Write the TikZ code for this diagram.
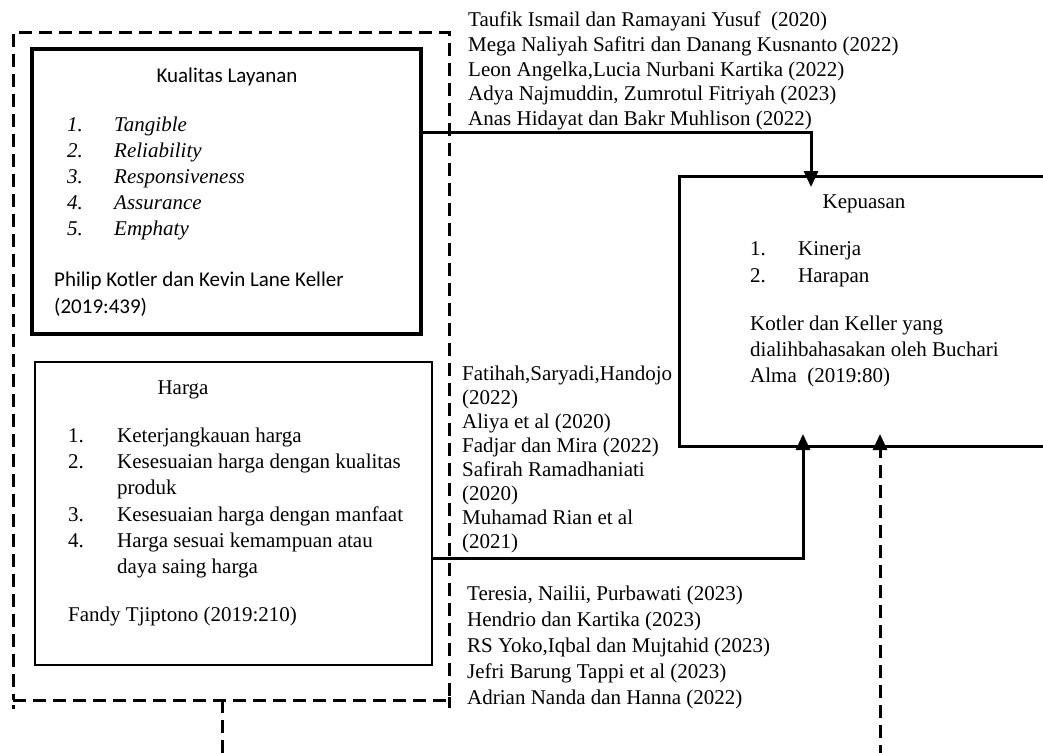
\documentclass[tikz,border=0pt]{standalone}
\usepackage{fontspec}
\setmainfont{Liberation Serif}
\newfontfamily\calib{Carlito}
\usetikzlibrary{arrows.meta,calc}
\begin{document}
\begin{tikzpicture}[x=1pt,y=-1pt,
  box/.style={draw, line width=3pt, anchor=north west, inner sep=0pt, outer sep=0pt},
  grpbox/.style={draw, line width=3pt, dash pattern=on 13pt off 7pt, anchor=north west, inner sep=0pt, outer sep=0pt},
  txt/.style={anchor=base west, inner sep=0pt, font=\fontsize{21}{25}\selectfont},
  ctxt/.style={anchor=base, inner sep=0pt, font=\fontsize{21}{25}\selectfont},
  sans/.style={font=\calib\fontsize{21}{25}\selectfont},
  ital/.style={font=\fontsize{21}{25}\selectfont\itshape},
  conn/.style={line width=3pt, -{Triangle[width=14pt,length=16pt]}},
  dconn/.style={conn, dash pattern=on 13pt off 7pt},
  dsh/.style={line width=3pt, dash pattern=on 13pt off 7pt}
]
\clip (0,0) rectangle (1043,752);
\fill[white] (0,0) rectangle (1043,752);

% boxes
\node[grpbox, minimum width=436pt, minimum height=667pt] (grp) at (13,33) {};
\node[box, line width=3.3pt, minimum width=389pt, minimum height=285pt] (kl) at (32,49) {};
\node[box, line width=2.7pt, minimum width=397pt, minimum height=303pt] (hg) at (35,362) {};
\node[box, minimum width=450pt, minimum height=270pt] (kep) at (679,176) {};

% small dashed ends below the group corners
\draw[dsh] ($(grp.south west)+(0,5)$) -- ++(0,4);
\draw[dsh] ($(grp.south east)+(0,-3)$) -- ++(0,11);

% connectors
\draw[conn] ($(kl.north east)+(0,83)$) -| ($(kep.north west)+(132,11)$);
\draw[conn] ($(hg.north east)+(0,196)$) -| ($(kep.south west)+(124,-12)$);
\draw[dconn] ($(grp.south west)+(209,0)$) -- ++(0,90) -| ($(kep.south west)+(201,-12)$);

% Kualitas Layanan
\node[ctxt, sans] (klt) at (227,82) {Kualitas Layanan};
\foreach \lnum/\litem [count=\i] in {1./Tangible, 2./Reliability, 3./Responsiveness, 4./Assurance, 5./Emphaty} {
  \node[txt, ital] (kln\i) at (67,131+26*\i-26) {\lnum};
  \node[txt, ital] (kli\i) at (114,131+26*\i-26) {\litem};
}
\node[txt, sans] (klc1) at (54,286) {Philip Kotler dan Kevin Lane Keller};
\node[txt, sans] (klc2) at (54,313) {(2019:439)};

% Harga
\node[ctxt] (hgt) at (183,394) {Harga};
\node[txt] (hgn1) at (68,442) {1.};
\node[txt] (hgi1) at (117,442) {Keterjangkauan harga};
\node[txt] (hgn2) at (68,468) {2.};
\node[txt] (hgi2) at (117,468) {Kesesuaian harga dengan kualitas};
\node[txt] (hgi2b) at (117,494) {produk};
\node[txt] (hgn3) at (68,521) {3.};
\node[txt] (hgi3) at (117,521) {Kesesuaian harga dengan manfaat};
\node[txt] (hgn4) at (68,547) {4.};
\node[txt] (hgi4) at (117,547) {Harga sesuai kemampuan atau};
\node[txt] (hgi4b) at (117,573) {daya saing harga};
\node[txt] (hgc) at (68,621) {Fandy Tjiptono (2019:210)};

% Kepuasan
\node[ctxt] (kept) at (864,208) {Kepuasan};
\node[txt] (kepn1) at (750,255) {1.};
\node[txt] (kepi1) at (798,255) {Kinerja};
\node[txt] (kepn2) at (750,282) {2.};
\node[txt] (kepi2) at (798,282) {Harapan};
\node[txt] (kepc1) at (750,330) {Kotler dan Keller yang};
\node[txt] (kepc2) at (750,356) {dialihbahasakan oleh Buchari};
\node[txt] (kepc3) at (750,382) {Alma~ (2019:80)};

% reference lists
\foreach \ref [count=\i] in {{Taufik Ismail dan Ramayani Yusuf~ (2020)}, {Mega Naliyah Safitri dan Danang Kusnanto (2022)}, {Leon Angelka,Lucia Nurbani Kartika (2022)}, {Adya Najmuddin, Zumrotul Fitriyah (2023)}, {Anas Hidayat dan Bakr Muhlison (2022)}} {
  \node[txt] (ra\i) at (468,27+24.5*\i-24.5) {\ref};
}
\foreach \ref [count=\i] in {{Fatihah,Saryadi,Handojo}, {(2022)}, {Aliya et al (2020)}, {Fadjar dan Mira (2022)}, {Safirah Ramadhaniati}, {(2020)}, {Muhamad Rian et al}, {(2021)}} {
  \node[txt] (rb\i) at (462,380+24*\i-24) {\ref};
}
\foreach \ref [count=\i] in {{Teresia, Nailii, Purbawati (2023)}, {Hendrio dan Kartika (2023)}, {RS Yoko,Iqbal dan Mujtahid (2023)}, {Jefri Barung Tappi et al (2023)}, {Adrian Nanda dan Hanna (2022)}} {
  \node[txt] (rc\i) at (467,600+26*\i-26) {\ref};
}
\end{tikzpicture}
\end{document}
